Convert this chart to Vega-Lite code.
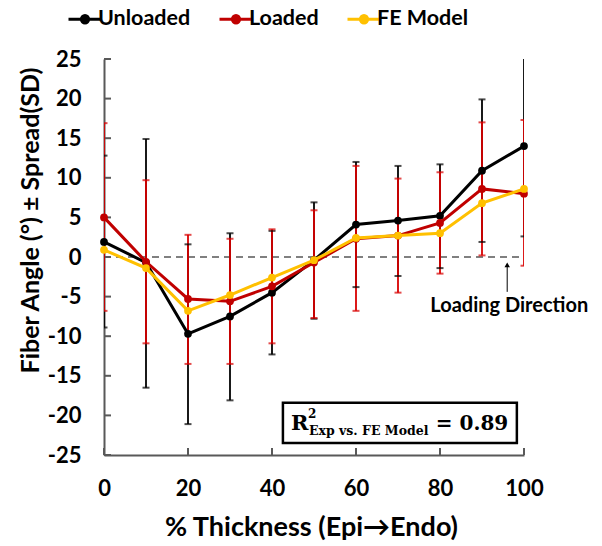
{
  "$schema": "https://vega.github.io/schema/vega-lite/v6.json",
  "width": 420,
  "height": 396,
  "autosize": {"type": "none"},
  "padding": {"left": 104, "top": 59, "right": 78, "bottom": 91},
  "background": "white",
  "resolve": {"axis": {"x": "independent", "y": "independent"}},
  "config": {
    "view": {"stroke": null},
    "font": "Lato",
    "axis": {
      "grid": false,
      "labelOverlap": false,
      "labelFlush": false,
      "domainColor": "#595959", "domainWidth": 2,
      "labelFont": "Lato", "labelFontWeight": "bold", "labelFontSize": 22, "labelColor": "#000000",
      "titleFont": "Lato", "titleFontWeight": "bold", "titleColor": "#000000"
    }
  },
  "datasets": {
    "pts": [
      {"series": "Unloaded", "x": 0, "mean": 1.9, "lo": -8.9, "hi": 12.8},
      {"series": "Unloaded", "x": 10, "mean": -0.7, "lo": -16.5, "hi": 14.9},
      {"series": "Unloaded", "x": 20, "mean": -9.7, "lo": -21.1, "hi": 1.6},
      {"series": "Unloaded", "x": 30, "mean": -7.5, "lo": -18.1, "hi": 3.0},
      {"series": "Unloaded", "x": 40, "mean": -4.5, "lo": -12.3, "hi": 3.3},
      {"series": "Unloaded", "x": 50, "mean": -0.4, "lo": -7.8, "hi": 6.9},
      {"series": "Unloaded", "x": 60, "mean": 4.1, "lo": -3.8, "hi": 12.0},
      {"series": "Unloaded", "x": 70, "mean": 4.6, "lo": -2.4, "hi": 11.5},
      {"series": "Unloaded", "x": 80, "mean": 5.2, "lo": -1.4, "hi": 11.7},
      {"series": "Unloaded", "x": 90, "mean": 10.9, "lo": 1.9, "hi": 19.9},
      {"series": "Unloaded", "x": 100, "mean": 14.0, "lo": 2.6, "hi": 25.4},
      {"series": "Loaded", "x": 0, "mean": 5.0, "lo": -6.8, "hi": 16.9},
      {"series": "Loaded", "x": 10, "mean": -0.6, "lo": -10.9, "hi": 9.7},
      {"series": "Loaded", "x": 20, "mean": -5.3, "lo": -13.5, "hi": 2.8},
      {"series": "Loaded", "x": 30, "mean": -5.6, "lo": -13.5, "hi": 2.3},
      {"series": "Loaded", "x": 40, "mean": -3.7, "lo": -10.9, "hi": 3.5},
      {"series": "Loaded", "x": 50, "mean": -0.7, "lo": -7.7, "hi": 5.9},
      {"series": "Loaded", "x": 60, "mean": 2.3, "lo": -6.8, "hi": 11.5},
      {"series": "Loaded", "x": 70, "mean": 2.7, "lo": -4.5, "hi": 9.9},
      {"series": "Loaded", "x": 80, "mean": 4.3, "lo": -2.1, "hi": 10.7},
      {"series": "Loaded", "x": 90, "mean": 8.6, "lo": 0.2, "hi": 17.0},
      {"series": "Loaded", "x": 100, "mean": 8.0, "lo": -1.1, "hi": 17.3},
      {"series": "FE Model", "x": 0, "mean": 0.9},
      {"series": "FE Model", "x": 10, "mean": -1.4},
      {"series": "FE Model", "x": 20, "mean": -6.8},
      {"series": "FE Model", "x": 30, "mean": -4.8},
      {"series": "FE Model", "x": 40, "mean": -2.6},
      {"series": "FE Model", "x": 50, "mean": -0.4},
      {"series": "FE Model", "x": 60, "mean": 2.4},
      {"series": "FE Model", "x": 70, "mean": 2.7},
      {"series": "FE Model", "x": 80, "mean": 3.0},
      {"series": "FE Model", "x": 90, "mean": 6.8},
      {"series": "FE Model", "x": 100, "mean": 8.6}
    ]
  },
  "layer": [
    {
      "data": {"values": [{"x": 0, "x2": 100, "y": 0}]},
      "mark": {"type": "rule", "color": "#808080", "strokeWidth": 2, "strokeDash": [7, 5]},
      "encoding": {
        "x": {
          "field": "x", "type": "quantitative", "title": "% Thickness (Epi→Endo)",
          "scale": {"domain": [0, 100], "nice": false, "zero": false},
          "axis": {
            "values": [0, 20, 40, 60, 80, 100],
            "ticks": false, "tickSize": 0, "labelPadding": 23.5,
            "labelOverlap": false, "labelFlush": false,
            "titleFontSize": 27,
            "titleX": 207, "titleY": 80, "titleBaseline": "alphabetic", "titleAlign": "center"
          }
        },
        "x2": {"field": "x2"},
        "y": {
          "field": "y", "type": "quantitative", "title": "Fiber Angle (°) ± Spread(SD)",
          "scale": {"domain": [-25, 25], "nice": false, "zero": false},
          "axis": {
            "values": [-25, -20, -15, -10, -5, 0, 5, 10, 15, 20, 25],
            "ticks": false, "tickSize": 0, "labelPadding": 23,
            "labelOverlap": false, "labelFlush": false,
            "labelExpr": "datum.value < 0 ? '-' + abs(datum.value) : '' + datum.value",
            "titleFontSize": 25,
            "titleX": -66, "titleY": 161, "titleBaseline": "alphabetic", "titleAlign": "center", "titleAngle": 270
          }
        }
      }
    },
    {
      "data": {"values": [{"v": 0}, {"v": 20}, {"v": 40}, {"v": 60}, {"v": 80}, {"v": 100}]},
      "mark": {"type": "rule", "color": "#595959", "strokeWidth": 2},
      "encoding": {
        "x": {"field": "v", "type": "quantitative", "axis": null},
        "y": {"datum": -25, "type": "quantitative", "axis": null},
        "y2": {"datum": -24.12}
      }
    },
    {
      "data": {"values": [{"v": -25}, {"v": -20}, {"v": -15}, {"v": -10}, {"v": -5}, {"v": 0}, {"v": 5}, {"v": 10}, {"v": 15}, {"v": 20}, {"v": 25}]},
      "mark": {"type": "rule", "color": "#595959", "strokeWidth": 2},
      "encoding": {
        "y": {"field": "v", "type": "quantitative", "axis": null},
        "x": {"datum": 0, "type": "quantitative", "axis": null},
        "x2": {"datum": 1.67}
      }
    },
    {
      "data": {"name": "pts"},
      "transform": [{"filter": "datum.lo != null"}],
      "mark": {"type": "rule", "strokeWidth": 1.8, "clip": true},
      "encoding": {
        "x": {"field": "x", "type": "quantitative", "axis": null},
        "y": {"field": "lo", "type": "quantitative", "axis": null},
        "y2": {"field": "hi"},
        "stroke": {"field": "series", "type": "nominal", "legend": null, "scale": {"domain": ["Unloaded", "Loaded"], "range": ["#000000", "#D90000"]}}
      }
    },
    {
      "data": {"name": "pts"},
      "transform": [{"filter": "datum.lo != null"}],
      "mark": {"type": "tick", "orient": "horizontal", "size": 7, "thickness": 2, "clip": true},
      "encoding": {
        "x": {"field": "x", "type": "quantitative", "axis": null},
        "y": {"field": "lo", "type": "quantitative", "axis": null},
        "fill": {"field": "series", "type": "nominal", "legend": null, "scale": {"domain": ["Unloaded", "Loaded"], "range": ["#000000", "#D90000"]}}
      }
    },
    {
      "data": {"name": "pts"},
      "transform": [{"filter": "datum.hi != null"}],
      "mark": {"type": "tick", "orient": "horizontal", "size": 7, "thickness": 2, "clip": true},
      "encoding": {
        "x": {"field": "x", "type": "quantitative", "axis": null},
        "y": {"field": "hi", "type": "quantitative", "axis": null},
        "fill": {"field": "series", "type": "nominal", "legend": null}
      }
    },
    {
      "data": {"name": "pts"},
      "transform": [{"filter": "datum.series == 'Unloaded'"}],
      "mark": {"type": "line", "strokeWidth": 3, "point": {"filled": true, "size": 60}},
      "encoding": {
        "x": {"field": "x", "type": "quantitative", "axis": null},
        "y": {"field": "mean", "type": "quantitative", "axis": null},
        "color": {
          "field": "series", "type": "nominal", "title": null,
          "scale": {"domain": ["Unloaded", "Loaded", "FE Model"], "range": ["#000000", "#C00000", "#FFC000"]},
          "legend": {
            "orient": "none", "direction": "horizontal", "legendX": -37, "legendY": -58,
            "padding": 0,
            "symbolType": "M-1,0L1,0M0.22,0A0.22,0.22,0,1,1,-0.22,0A0.22,0.22,0,1,1,0.22,0Z",
            "symbolSize": 1089, "symbolStrokeWidth": 3,
            "labelFont": "Lato", "labelFontWeight": "bold", "labelFontSize": 21.5, "labelColor": "#000000",
            "labelOffset": -5, "columnPadding": 22,
            "encode": {"symbols": {"update": {"fill": {"scale": "color", "field": "value"}, "stroke": {"scale": "color", "field": "value"}, "strokeWidth": {"value": 3}, "opacity": {"value": 1}}}}
          }
        }
      }
    },
    {
      "data": {"name": "pts"},
      "transform": [{"filter": "datum.series == 'Loaded'"}],
      "mark": {"type": "line", "strokeWidth": 3, "point": {"filled": true, "size": 60}},
      "encoding": {
        "x": {"field": "x", "type": "quantitative", "axis": null},
        "y": {"field": "mean", "type": "quantitative", "axis": null},
        "color": {"field": "series", "type": "nominal", "title": null}
      }
    },
    {
      "data": {"name": "pts"},
      "transform": [{"filter": "datum.series == 'FE Model'"}],
      "mark": {"type": "line", "strokeWidth": 3, "point": {"filled": true, "size": 60}},
      "encoding": {
        "x": {"field": "x", "type": "quantitative", "axis": null},
        "y": {"field": "mean", "type": "quantitative", "axis": null},
        "color": {"field": "series", "type": "nominal", "title": null}
      }
    },
    {
      "data": {"values": [{"x": 96, "y": -4.4, "y2": -1.2}]},
      "mark": {"type": "rule", "color": "#000000", "strokeWidth": 1},
      "encoding": {
        "x": {"field": "x", "type": "quantitative", "axis": null},
        "y": {"field": "y", "type": "quantitative", "axis": null},
        "y2": {"field": "y2"}
      }
    },
    {
      "data": {"values": [{"x": 96, "y": -1.0}]},
      "mark": {"type": "point", "shape": "triangle-up", "filled": true, "color": "#000000", "size": 30, "opacity": 1},
      "encoding": {
        "x": {"field": "x", "type": "quantitative", "axis": null},
        "y": {"field": "y", "type": "quantitative", "axis": null}
      }
    },
    {
      "data": {"values": [{"x": 96.5, "y": -6.9, "t": "Loading Direction"}]},
      "mark": {"type": "text", "font": "Lato", "fontWeight": "bold", "fontSize": 20, "align": "center", "baseline": "alphabetic", "color": "#000000"},
      "encoding": {
        "x": {"field": "x", "type": "quantitative", "axis": null},
        "y": {"field": "y", "type": "quantitative", "axis": null},
        "text": {"field": "t"}
      }
    },
    {
      "data": {"values": [{"x": 42.6, "x2": 98.3, "y": -18.4, "y2": -23.5}]},
      "mark": {"type": "rect", "fill": "white", "stroke": "#000000", "strokeWidth": 2.5},
      "encoding": {
        "x": {"field": "x", "type": "quantitative", "axis": null},
        "x2": {"field": "x2"},
        "y": {"field": "y", "type": "quantitative", "axis": null},
        "y2": {"field": "y2"}
      }
    },
    {
      "data": {"values": [{"x": 44.5, "y": -21.85, "t": "R"}]},
      "mark": {"type": "text", "font": "DejaVu Serif", "fontWeight": "bold", "fontSize": 21, "align": "left", "baseline": "alphabetic", "color": "#000000"},
      "encoding": {
        "x": {"field": "x", "type": "quantitative", "axis": null},
        "y": {"field": "y", "type": "quantitative", "axis": null},
        "text": {"field": "t"}
      }
    },
    {
      "data": {"values": [{"x": 79.0, "y": -21.85, "t": "= 0.89"}]},
      "mark": {"type": "text", "font": "DejaVu Serif", "fontWeight": "bold", "fontSize": 20, "align": "left", "baseline": "alphabetic", "color": "#000000"},
      "encoding": {
        "x": {"field": "x", "type": "quantitative", "axis": null},
        "y": {"field": "y", "type": "quantitative", "axis": null},
        "text": {"field": "t"}
      }
    },
    {
      "data": {"values": [{"x": 48.6, "y": -20.3, "t": "2"}]},
      "mark": {"type": "text", "font": "DejaVu Serif", "fontWeight": "bold", "fontSize": 12, "align": "left", "baseline": "alphabetic", "color": "#000000"},
      "encoding": {
        "x": {"field": "x", "type": "quantitative", "axis": null},
        "y": {"field": "y", "type": "quantitative", "axis": null},
        "text": {"field": "t"}
      }
    },
    {
      "data": {"values": [{"x": 48.8, "y": -22.5, "t": "Exp vs. FE Model"}]},
      "mark": {"type": "text", "font": "DejaVu Serif", "fontWeight": "bold", "fontSize": 12.5, "align": "left", "baseline": "alphabetic", "color": "#000000"},
      "encoding": {
        "x": {"field": "x", "type": "quantitative", "axis": null},
        "y": {"field": "y", "type": "quantitative", "axis": null},
        "text": {"field": "t"}
      }
    }
  ]
}
